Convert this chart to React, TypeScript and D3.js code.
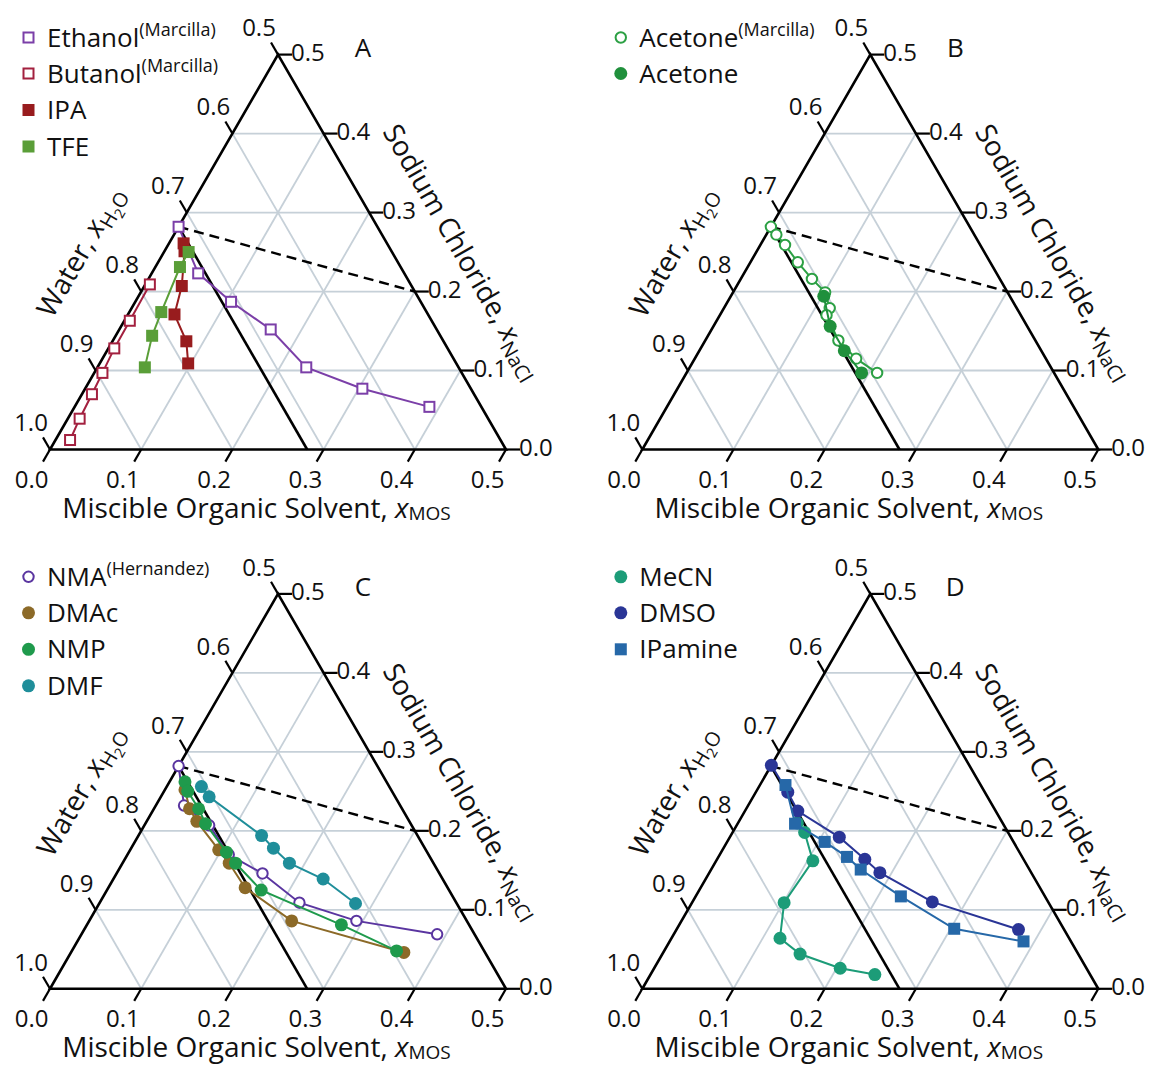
import React from "react";
import * as d3 from "d3";

type Pt = [number, number]; // [x_MOS, x_NaCl]

// ---- Panel A ----
const ethanolMarcilla: Pt[] = [[0.0, 0.282], [0.051, 0.223], [0.105, 0.187], [0.166, 0.152], [0.229, 0.104], [0.304, 0.077], [0.389, 0.054]];
const butanolMarcilla: Pt[] = [[0.005, 0.209], [0.006, 0.163], [0.0065, 0.128], [0.009, 0.097], [0.011, 0.070], [0.013, 0.039], [0.016, 0.012]];
const ipa: Pt[] = [[0.016, 0.261], [0.022, 0.251], [0.041, 0.207], [0.051, 0.171], [0.081, 0.137], [0.097, 0.109]];
const tfe: Pt[] = [[0.027, 0.25], [0.027, 0.231], [0.035, 0.174], [0.040, 0.144], [0.052, 0.104]];
// ---- Panel B ----
const acetoneMarcilla: Pt[] = [[0.0, 0.282], [0.011, 0.272], [0.027, 0.259], [0.052, 0.237], [0.078, 0.216], [0.101, 0.199], [0.116, 0.179], [0.117, 0.170], [0.146, 0.138], [0.177, 0.115], [0.209, 0.097]];
const acetone: Pt[] = [[0.102, 0.194], [0.128, 0.156], [0.159, 0.125], [0.192, 0.097]];
// ---- Panel C ----
const nmaHernandez: Pt[] = [[0.0, 0.282], [0.031, 0.232], [0.071, 0.207], [0.111, 0.170], [0.160, 0.146], [0.219, 0.109], [0.293, 0.086], [0.390, 0.069]];
const dmac: Pt[] = [[0.022, 0.252], [0.039, 0.228], [0.055, 0.212], [0.097, 0.176], [0.117, 0.159], [0.150, 0.128], [0.222, 0.086], [0.365, 0.046]];
const nmp: Pt[] = [[0.017, 0.262], [0.026, 0.250], [0.049, 0.228], [0.066, 0.209], [0.107, 0.173], [0.124, 0.159], [0.169, 0.125], [0.279, 0.081], [0.356, 0.048]];
const dmf: Pt[] = [[0.038, 0.256], [0.053, 0.243], [0.135, 0.194], [0.156, 0.178], [0.183, 0.159], [0.230, 0.139], [0.281, 0.108]];
// ---- Panel D ----
const mecn: Pt[] = [[0.065, 0.210], [0.079, 0.198], [0.106, 0.162], [0.101, 0.109], [0.119, 0.064], [0.151, 0.044], [0.204, 0.026], [0.246, 0.018]];
const dmso: Pt[] = [[0.0, 0.283], [0.035, 0.249], [0.058, 0.225], [0.120, 0.192], [0.162, 0.164], [0.187, 0.147], [0.263, 0.110], [0.375, 0.075]];
const ipamine: Pt[] = [[0.028, 0.258], [0.063, 0.209], [0.107, 0.186], [0.141, 0.167], [0.164, 0.151], [0.225, 0.117], [0.304, 0.076], [0.388, 0.060]];

// reference lines
const saturationPoint: Pt = [0.0, 0.282];
const solidLineEnd: Pt = [0.282, 0.0];
const dashedLineEnd: Pt = [0.3, 0.2];

const tickValues = [0, 0.1, 0.2, 0.3, 0.4, 0.5];
const gridValues = [0.1, 0.2, 0.3, 0.4];

type Series = { name: string; sup?: string; data: Pt[]; color: string; marker: "square" | "circle"; filled: boolean };
type PanelDef = { letter: string; ox: number; oy: number; series: Series[] };

const panels: PanelDef[] = [
  {
    letter: "A", ox: 50, oy: 449.5,
    series: [
      { name: "Ethanol", sup: "(Marcilla)", data: ethanolMarcilla, color: "#7b3fa8", marker: "square", filled: false },
      { name: "Butanol", sup: "(Marcilla)", data: butanolMarcilla, color: "#a3203f", marker: "square", filled: false },
      { name: "IPA", data: ipa, color: "#981c1e", marker: "square", filled: true },
      { name: "TFE", data: tfe, color: "#5a9e38", marker: "square", filled: true },
    ],
  },
  {
    letter: "B", ox: 642.3, oy: 449.5,
    series: [
      { name: "Acetone", sup: "(Marcilla)", data: acetoneMarcilla, color: "#2ca044", marker: "circle", filled: false },
      { name: "Acetone", data: acetone, color: "#20903c", marker: "circle", filled: true },
    ],
  },
  {
    letter: "C", ox: 50, oy: 988.8,
    series: [
      { name: "NMA", sup: "(Hernandez)", data: nmaHernandez, color: "#5a35a0", marker: "circle", filled: false },
      { name: "DMAc", data: dmac, color: "#8c6a28", marker: "circle", filled: true },
      { name: "NMP", data: nmp, color: "#1f9a4c", marker: "circle", filled: true },
      { name: "DMF", data: dmf, color: "#1f8e9a", marker: "circle", filled: true },
    ],
  },
  {
    letter: "D", ox: 642.3, oy: 988.8,
    series: [
      { name: "MeCN", data: mecn, color: "#1c9c78", marker: "circle", filled: true },
      { name: "DMSO", data: dmso, color: "#2a3596", marker: "circle", filled: true },
      { name: "IPamine", data: ipamine, color: "#2668a8", marker: "square", filled: true },
    ],
  },
];

const SIDE = 456;
const HEIGHT = (SIDE * Math.sqrt(3)) / 2;
const FONT = "'Open Sans', Lato, sans-serif";
const TICK = 14;

function Marker({ x, y, s }: { x: number; y: number; s: Series }) {
  if (s.marker === "square") {
    if (s.filled) return <rect x={x - 6} y={y - 6} width={12} height={12} fill={s.color} />;
    return <rect x={x - 5} y={y - 5} width={10} height={10} fill="white" stroke={s.color} strokeWidth={2} />;
  }
  if (s.filled) return <circle cx={x} cy={y} r={6.5} fill={s.color} />;
  return <circle cx={x} cy={y} r={5.2} fill="white" stroke={s.color} strokeWidth={2} />;
}

function Panel({ p }: { p: PanelDef }) {
  const xs = d3.scaleLinear().domain([0, 0.5]).range([p.ox, p.ox + SIDE]);
  const ys = d3.scaleLinear().domain([0, 0.5]).range([p.oy, p.oy - HEIGHT]);
  const proj = (m: number, n: number): [number, number] => [xs(m + n / 2), ys(n)];
  const line = d3.line<Pt>().x((d) => proj(d[0], d[1])[0]).y((d) => proj(d[0], d[1])[1]);
  const top = p.oy - 449.5;
  const dx60 = TICK * 0.5;
  const dy60 = TICK * 0.866;

  const grid: [Pt, Pt][] = [];
  gridValues.forEach((v) => {
    grid.push([[0, v], [0.5 - v, v]]); // NaCl const
    grid.push([[v, 0], [v, 0.5 - v]]); // MOS const
    grid.push([[0, v], [v, 0]]); // water const
  });

  const [blx, bly] = proj(0, 0);
  const [brx, bry] = proj(0.5, 0);
  const [tx, ty] = proj(0, 0.5);
  const legendRows = [37.5, 73.5, 110, 146.5];

  return (
    <g>
      {/* grid */}
      {grid.map((g, i) => (
        <path key={"g" + i} d={line(g) || ""} stroke="#c6d0d8" strokeWidth={1.8} fill="none" />
      ))}
      {/* triangle */}
      <path d={`M${blx},${bly}L${brx},${bry}L${tx},${ty}Z`} fill="none" stroke="#000" strokeWidth={2.6} strokeLinejoin="miter" />
      {/* ticks and labels */}
      {tickValues.map((v) => {
        const [wx, wy] = proj(0, v); // left edge (water = 1 - v)
        const [nx, ny] = proj(0.5 - v, v); // right edge (NaCl = v)
        const [mx, my] = proj(v, 0); // bottom (MOS = v)
        return (
          <g key={"t" + v}>
            <line x1={wx} y1={wy} x2={wx - dx60} y2={wy - dy60} stroke="#000" strokeWidth={2.2} />
            <text x={wx - dx60 - 12} y={wy - dy60 - 6} textAnchor="middle" fontSize={24} fontFamily={FONT} fill="#111">
              {(1 - v).toFixed(1)}
            </text>
            <line x1={nx} y1={ny} x2={nx + TICK} y2={ny} stroke="#000" strokeWidth={2.2} />
            <text x={nx + TICK - 1} y={ny + 6.5} textAnchor="start" fontSize={24} fontFamily={FONT} fill="#111">
              {v.toFixed(1)}
            </text>
            <line x1={mx} y1={my} x2={mx - dx60} y2={my + dy60} stroke="#000" strokeWidth={2.2} />
            <text x={mx - 18.3} y={my + 38} textAnchor="middle" fontSize={24} fontFamily={FONT} fill="#111">
              {v.toFixed(1)}
            </text>
          </g>
        );
      })}
      {/* axis titles */}
      <text x={p.ox + 206.5} y={p.oy + 68.5} textAnchor="middle" fontSize={28} fontFamily={FONT} fill="#111">
        Miscible Organic Solvent, <tspan fontStyle="italic">x</tspan>
        <tspan fontSize={19} dy={2}>MOS</tspan>
      </text>
      <text transform={`translate(${p.ox + 31},${p.oy - 197.5}) rotate(-60)`} x={0} y={9} textAnchor="middle" fontSize={28} fontFamily={FONT} fill="#111">
        Water, <tspan fontStyle="italic">x</tspan>
        <tspan fontSize={20} dy={6}>H</tspan>
        <tspan fontSize={14} dy={4}>2</tspan>
        <tspan fontSize={20} dy={-4}>O</tspan>
      </text>
      <text transform={`translate(${p.ox + 412},${p.oy - 197.5}) rotate(60)`} x={0} y={9} textAnchor="middle" fontSize={28} fontFamily={FONT} fill="#111">
        Sodium Chloride, <tspan fontStyle="italic">x</tspan>
        <tspan fontSize={20} dy={6}>NaCl</tspan>
      </text>
      {/* panel letter */}
      <text x={tx + 85} y={ty + 2} textAnchor="middle" fontSize={26} fontFamily={FONT} fill="#111">
        {p.letter}
      </text>
      {/* reference lines */}
      <path d={line([saturationPoint, solidLineEnd]) || ""} stroke="#000" strokeWidth={2.6} fill="none" />
      <path d={line([saturationPoint, dashedLineEnd]) || ""} stroke="#000" strokeWidth={2.4} strokeDasharray="10,6" fill="none" />
      {/* series */}
      {p.series.map((s, si) => (
        <g key={"s" + si}>
          <path d={line(s.data) || ""} stroke={s.color} strokeWidth={2} fill="none" />
          {s.data.map((d, i) => {
            const [x, y] = proj(d[0], d[1]);
            return <Marker key={i} x={x} y={y} s={s} />;
          })}
        </g>
      ))}
      {/* legend */}
      {p.series.map((s, si) => {
        const y = top + legendRows[si];
        return (
          <g key={"l" + si}>
            <Marker x={p.ox - 21.5} y={y} s={s} />
            <text x={p.ox - 3} y={y + 9} fontSize={26} fontFamily={FONT} fill="#111">
              {s.name}
              {s.sup ? (
                <tspan fontSize={18} dy={-11}>
                  {s.sup}
                </tspan>
              ) : null}
            </text>
          </g>
        );
      })}
    </g>
  );
}

export default function App() {
  return (
    <svg width={1151} height={1066} style={{ position: "absolute", left: 0, top: 0, background: "#fff" }}>
      <rect x={0} y={0} width={1151} height={1066} fill="#fff" />
      {panels.map((p) => (
        <Panel key={p.letter} p={p} />
      ))}
    </svg>
  );
}
